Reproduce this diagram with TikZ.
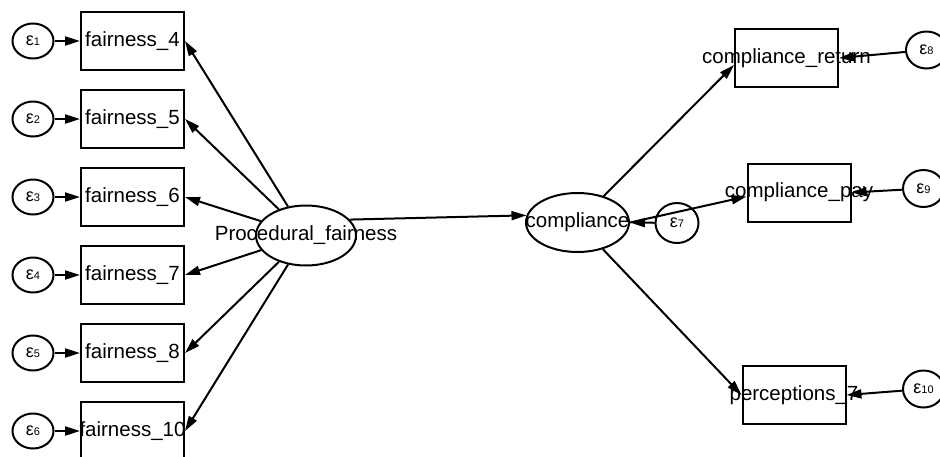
\documentclass[tikz,border=0pt]{standalone}
\usepackage{fontspec}
\setmainfont{Liberation Sans}
\usetikzlibrary{shapes.geometric,arrows.meta}
\newcommand{\epsl}[1]{{\fontsize{18}{18}\selectfont ε}{\fontsize{11}{11}\selectfont #1}}
\tikzset{
  obs/.style={draw, line width=2pt, rectangle, minimum width=103pt, minimum height=58pt, inner sep=0pt},
  lat/.style={draw, line width=2pt, ellipse, inner sep=0pt},
  err/.style={draw, line width=2pt, ellipse, inner sep=0pt, minimum width=41pt, minimum height=35pt},
  lbl/.style={font=\fontsize{20.5}{22}\selectfont},
  conn/.style={draw, line width=2pt, -{Triangle[length=15pt,width=9pt]}}
}
\begin{document}
\begin{tikzpicture}[x=1pt,y=-1pt]
\useasboundingbox (0,0) rectangle (940,456);
% left observed
\foreach \i/\n/\y in {1/4/41,2/5/119,3/6/197,4/7/275,5/8/353,6/10/431}{
  \node[obs, label={[lbl]center:fairness\_\n}] (f\i) at (132.5,\y) {};
  \node[err] (e\i) at (33,\y) {\epsl{\i}};
}
% latent
\node[lat, minimum width=100pt, minimum height=60pt, label={[lbl]center:Procedural\_fairness}] (pf) at (306,235.5) {};
\node[lat, minimum width=103pt, minimum height=59pt, label={[lbl]center:compliance}] (comp) at (577.5,222.5) {};
\node[err, minimum width=43pt, minimum height=40pt] (e7) at (677,223) {\epsl{7}};
% right observed
\node[obs, label={[lbl]center:compliance\_return}] (cr) at (786.5,58) {};
\node[obs, label={[lbl]center:compliance\_pay}] (cp) at (799,192.5) {};
\node[obs, label={[lbl]center:perceptions\_7}] (p7) at (794,395) {};
\node[err, minimum height=37pt] (e8) at (926.5,50) {\epsl{8}};
\node[err, minimum height=37pt] (e9) at (923.5,188.5) {\epsl{9}};
\node[err, minimum height=37pt] (e10) at (923.5,389) {\epsl{10}};
% paths
\foreach \i in {1,...,6}{
  \path[conn] (e\i) -- (f\i);
  \path[conn] (pf) -- (f\i.east);
}
\path[conn] (pf.20) -- (comp.172);
\path[conn] (comp) -- ([yshift=-7pt]cr.west);
\path[conn] (comp.east) -- ([yshift=-4pt]cp.west);
\path[conn] (comp) -- (p7.west);
\path[conn] (e7) -- (comp.east);
\path[conn] (e8) -- (cr.east);
\path[conn] (e9) -- (cp.east);
\path[conn] (e10) -- (p7.east);
\end{tikzpicture}
\end{document}
